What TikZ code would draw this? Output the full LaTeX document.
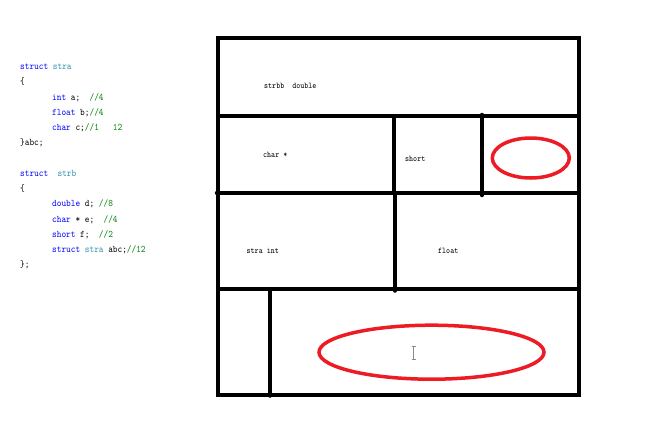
\documentclass[tikz,border=0pt]{standalone}
\usepackage{graphicx}
\definecolor{kw}{HTML}{0000FF}
\definecolor{ty}{HTML}{2B91AF}
\definecolor{cm}{HTML}{008000}
\definecolor{pred}{HTML}{ED1C24}
\definecolor{ibeam}{HTML}{8A8A8A}
\newcommand{\cdl}[1]{\scalebox{0.89}[1]{#1}}
\newcommand{\lbt}[1]{\scalebox{0.88}[1]{#1}}
\newcommand{\K}[1]{\textcolor{kw}{#1}}
\newcommand{\T}[1]{\textcolor{ty}{#1}}
\newcommand{\C}[1]{\textcolor{cm}{#1}}
\begin{document}
\begin{tikzpicture}[x=1pt,y=-1pt,
  codeline/.style={anchor=base west,inner sep=0pt,font=\fontsize{10}{12}\ttfamily},
  celllabel/.style={anchor=base west,inner sep=0pt,font=\fontsize{8.7}{10}\ttfamily},
  wall/.style={line width=3.5pt,draw=black},
  divider/.style={line width=3.5pt,draw=black,line cap=round},
  redring/.style={line width=3.5pt,draw=pred},
]
\useasboundingbox (0,0) rectangle (661,426);
\fill[white] (0,0) rectangle (661,426);

% ---- code listing ----
\node[codeline] (c1)  at (20,69)  {\cdl{\K{struct}~\T{stra}}};
\node[codeline] (c2)  at (20,84)  {\cdl{\{}};
\node[codeline] (c3)  at (52,100) {\cdl{\K{int}~a;~~\C{//4}}};
\node[codeline] (c4)  at (52,115) {\cdl{\K{float}~b;\C{//4}}};
\node[codeline] (c5)  at (52,130) {\cdl{\K{char}~c;\C{//1~~~12}}};
\node[codeline] (c6)  at (20,145) {\cdl{\}abc;}};
\node[codeline] (c7)  at (20,176) {\cdl{\K{struct}~~\T{strb}}};
\node[codeline] (c8)  at (20,191) {\cdl{\{}};
\node[codeline] (c9)  at (52,206) {\cdl{\K{double}~d;~\C{//8}}};
\node[codeline] (c10) at (52,222) {\cdl{\K{char}~*~e;~~\C{//4}}};
\node[codeline] (c11) at (52,237) {\cdl{\K{short}~f;~~\C{//2}}};
\node[codeline] (c12) at (52,252) {\cdl{\K{struct}~\T{stra}~abc;\C{//12}}};
\node[codeline] (c13) at (20,267) {\cdl{\};}};

% ---- memory layout frame ----
\coordinate (TL) at (218,38);
\coordinate (BR) at (579,395);
\coordinate (r1L) at (218,116); \coordinate (r1R) at (579,116);
\coordinate (r2L) at (216.5,193); \coordinate (r2R) at (579,193);
\coordinate (r3L) at (218,289); \coordinate (r3R) at (579,289);
\coordinate (v1t) at (394,116); \coordinate (v1b) at (394,193);
\coordinate (v2t) at (482,114.5); \coordinate (v2b) at (482,195.5);
\coordinate (v3t) at (395,193); \coordinate (v3b) at (395,291);
\coordinate (v4t) at (270,289); \coordinate (v4b) at (270,396);

\draw[wall] (TL) rectangle (BR);
\draw[divider] (r1L) -- (r1R);
\draw[divider] (r2L) -- (r2R);
\draw[divider] (r3L) -- (r3R);
\draw[divider] (v1t) -- (v1b);
\draw[divider] (v2t) -- (v2b);
\draw[divider] (v3t) -- (v3b);
\draw[divider] (v4t) -- (v4b);

% ---- cell labels ----
\node[celllabel] (l1) at (264,88.5)  {\lbt{strbb~~double}};
\node[celllabel] (l2) at (263,157)   {\lbt{char *}};
\node[celllabel] (l3) at (405,161)   {\lbt{short}};
\node[celllabel] (l4) at (246.5,253.5) {\lbt{stra int}};
\node[celllabel] (l5) at (438,253.5) {\lbt{float}};

% ---- red padding marks ----
\draw[redring] (530.8,158) ellipse [x radius=38.5pt, y radius=20pt];
\draw[redring] (431.5,352.2) ellipse [x radius=112.5pt, y radius=27pt];

% ---- text cursor ----
\draw[ibeam,line width=1pt] (413.5,346) -- (413.5,359);
\draw[ibeam,line width=1pt] (411.5,346) -- (415.5,346);
\draw[ibeam,line width=1pt] (411.5,359) -- (415.5,359);
\end{tikzpicture}
\end{document}
